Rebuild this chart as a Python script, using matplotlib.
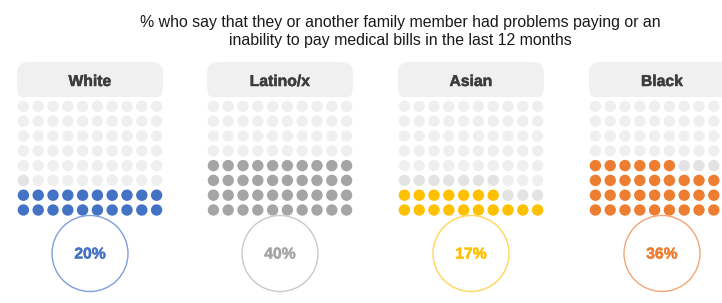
import numpy as np
import matplotlib.pyplot as plt
import matplotlib.patheffects as pe
from matplotlib.patches import Circle, FancyBboxPatch

plt.rcParams['font.family'] = ['Liberation Sans', 'DejaVu Sans']

# data
groups = ['White', 'Latino/x', 'Asian', 'Black']
pct = [20, 40, 17, 36]
extra = [1, 0, 10, 4]          # slightly darker grey dots after the coloured ones
colors = ['#4472c4', '#a5a5a5', '#ffc000', '#ed7d31']
ring_colors = ['#7f9fdc', '#c9c9c9', '#ffd659', '#f2a577']
title = ('% who say that they or another family member had problems paying or an\n'
         'inability to pay medical bills in the last 12 months')

W, H = 722, 303
fig = plt.figure(figsize=(W / 100, H / 100), dpi=100)
ax = fig.add_axes([0, 0, 1, 1])
ax.set_xlim(0, W)
ax.set_ylim(H, 0)
ax.axis('off')

centers = [90, 280, 471, 662]
step = 14.8
rad = 5.7
bottom_y = 210

ax.text(400, 31.5, title, ha='center', va='center', fontsize=11.4,
        color='#1a1a1a', linespacing=1.2)

for k, name in enumerate(groups):
    cx = centers[k]
    # waffle grid, filled from bottom-left, row by row
    for i in range(100):
        row, col = divmod(i, 10)
        x = cx + (col - 4.5) * step
        y = bottom_y - row * step
        if i < pct[k]:
            fc = colors[k]
        elif i < pct[k] + extra[k]:
            fc = '#e3e3e3'
        else:
            fc = '#efefef'
        ax.add_patch(Circle((x, y), rad, fc=fc, ec='none', zorder=1))
    # header tab (covers the top two rows of the grid)
    ax.add_patch(FancyBboxPatch((cx - 73, 62), 146, 35,
                                boxstyle='round,pad=0,rounding_size=11',
                                fc='#f0f0f0', ec='none', zorder=2))
    ax.text(cx, 81.5, name, ha='center', va='center', fontsize=11.3,
            fontweight='bold', color='#3d3d3d', zorder=3,
            path_effects=[pe.withStroke(linewidth=0.35, foreground='#3d3d3d')])
    # percent ring
    ax.add_patch(Circle((cx, 253.5), 38, fc='white', ec=ring_colors[k],
                        lw=1.0, zorder=4))
    ax.text(cx, 254, f'{pct[k]}%', ha='center', va='center', fontsize=11.3,
            fontweight='bold', color=colors[k], zorder=5,
            path_effects=[pe.withStroke(linewidth=0.3, foreground=colors[k])])

fig.savefig('out.png', dpi=100, facecolor='white')
